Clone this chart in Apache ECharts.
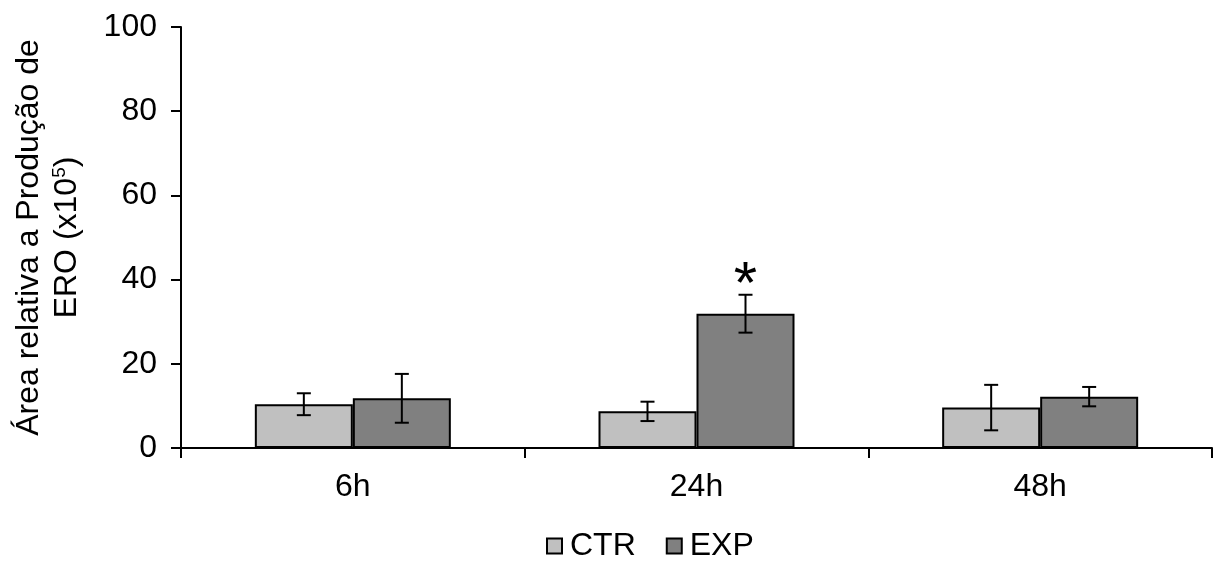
<!DOCTYPE html>
<html>
<head>
<meta charset="utf-8">
<script src="https://cdn.jsdelivr.net/npm/echarts@6/dist/echarts.min.js"></script>
<style>html,body{margin:0;padding:0;background:#fff}#c{width:1222px;height:570px}</style>
</head>
<body>
<div id="c"></div>
<script>
var categories = ['6h', '24h', '48h'];
var ctrValues = [10.4, 8.7, 9.6];
var ctrErrors = [2.6, 2.3, 5.4];
var expValues = [11.8, 31.9, 12.2];
var expErrors = [5.8, 4.5, 2.3];
var significance = ['', '*', ''];
var yTicks = [0, 20, 40, 60, 80, 100];

var BAR_W = 98;
var FONT = 'Liberation Sans, Arial, sans-serif';

var errData = [];
categories.forEach(function (c, i) {
  errData.push([i, ctrValues[i], ctrErrors[i], -1, '']);
  errData.push([i, expValues[i], expErrors[i], 1, significance[i]]);
});

var chart = echarts.init(document.getElementById('c'));
chart.setOption({
  animation: false,
  textStyle: { fontFamily: FONT },
  grid: { left: 181, right: 10, top: 27, bottom: 122 },
  legend: {
    bottom: 3,
    left: 541,
    icon: 'rect',
    itemWidth: 15,
    itemHeight: 15,
    itemGap: 30,
    textStyle: { fontSize: 32, color: '#000', fontFamily: FONT, padding: [0, 0, 0, 3] },
    data: ['CTR', 'EXP']
  },
  xAxis: {
    type: 'category',
    data: categories,
    axisLine: { lineStyle: { color: '#000', width: 2 } },
    axisTick: { show: true, length: 10, lineStyle: { color: '#000', width: 2 } },
    axisLabel: { fontSize: 32, color: '#000', margin: 23, fontFamily: FONT }
  },
  yAxis: {
    type: 'value',
    min: 0,
    max: yTicks[yTicks.length - 1],
    interval: yTicks[1] - yTicks[0],
    splitLine: { show: false },
    axisLine: { show: true, lineStyle: { color: '#000', width: 2 } },
    axisTick: { show: true, length: 10, lineStyle: { color: '#000', width: 2 } },
    axisLabel: { fontSize: 32, color: '#000', margin: 24, fontFamily: FONT },
    name: 'Área relativa a Produção de\nERO (x10{sup|5})',
    nameLocation: 'middle',
    nameGap: 95,
    nameTextStyle: {
      fontSize: 32, color: '#000', fontFamily: FONT, lineHeight: 38, align: 'center',
      rich: { sup: { fontSize: 19, color: '#000', fontFamily: FONT, padding: [0, 0, 15, 0] } }
    }
  },
  series: [
    {
      name: 'CTR', type: 'bar', data: ctrValues, barWidth: BAR_W, barGap: '0%',
      itemStyle: { color: '#c0c0c0', borderColor: '#000', borderWidth: 2 }
    },
    {
      name: 'EXP', type: 'bar', data: expValues, barWidth: BAR_W, barGap: '0%',
      itemStyle: { color: '#808080', borderColor: '#000', borderWidth: 2 }
    },
    {
      type: 'custom',
      data: errData,
      z: 10,
      renderItem: function (params, api) {
        var cat = api.value(0), mean = api.value(1), err = api.value(2), side = api.value(3);
        var sig = errData[params.dataIndex][4];
        var top = api.coord([cat, mean + err]);
        var bot = api.coord([cat, mean - err]);
        var x = top[0] + side * BAR_W / 2;
        var cap = 7;
        var st = { stroke: '#000', lineWidth: 2 };
        var children = [
          { type: 'line', shape: { x1: x, y1: top[1], x2: x, y2: bot[1] }, style: st },
          { type: 'line', shape: { x1: x - cap, y1: top[1], x2: x + cap, y2: top[1] }, style: st },
          { type: 'line', shape: { x1: x - cap, y1: bot[1], x2: x + cap, y2: bot[1] }, style: st }
        ];
        if (sig) {
          children.push({
            type: 'text',
            style: { text: sig, x: x, y: top[1] - 8, align: 'center', verticalAlign: 'middle',
                     fontSize: 60, fontFamily: FONT, fill: '#000' }
          });
        }
        return { type: 'group', children: children };
      }
    }
  ]
});
</script>
</body>
</html>
